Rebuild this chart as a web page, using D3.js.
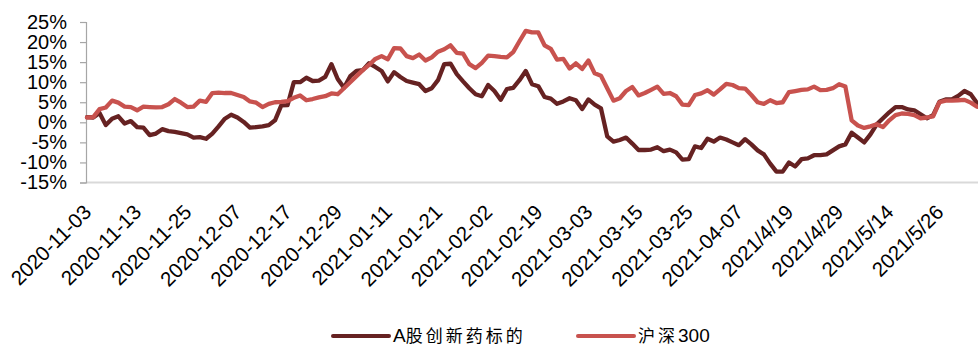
<!DOCTYPE html>
<html>
<head>
<meta charset="utf-8">
<script src="https://cdn.jsdelivr.net/npm/d3@7"></script>
<style>
  body { margin: 0; background: #fff; }
  svg { display: block; }
</style>
</head>
<body>
<svg id="chart" width="978" height="347"></svg>
<script>
// Trading days (category axis)
const dates = [
  "2020-11-03","2020-11-04","2020-11-05","2020-11-06",
  "2020-11-09","2020-11-10","2020-11-11","2020-11-12","2020-11-13",
  "2020-11-16","2020-11-17","2020-11-18","2020-11-19","2020-11-20",
  "2020-11-23","2020-11-24","2020-11-25","2020-11-26","2020-11-27",
  "2020-11-30","2020-12-01","2020-12-02","2020-12-03","2020-12-04",
  "2020-12-07","2020-12-08","2020-12-09","2020-12-10","2020-12-11",
  "2020-12-14","2020-12-15","2020-12-16","2020-12-17","2020-12-18",
  "2020-12-21","2020-12-22","2020-12-23","2020-12-24","2020-12-25",
  "2020-12-28","2020-12-29","2020-12-30","2020-12-31",
  "2021-01-04","2021-01-05","2021-01-06","2021-01-07","2021-01-08",
  "2021-01-11","2021-01-12","2021-01-13","2021-01-14","2021-01-15",
  "2021-01-18","2021-01-19","2021-01-20","2021-01-21","2021-01-22",
  "2021-01-25","2021-01-26","2021-01-27","2021-01-28","2021-01-29",
  "2021-02-01","2021-02-02","2021-02-03","2021-02-04","2021-02-05",
  "2021-02-08","2021-02-09","2021-02-10","2021-02-18","2021-02-19",
  "2021-02-22","2021-02-23","2021-02-24","2021-02-25","2021-02-26",
  "2021-03-01","2021-03-02","2021-03-03","2021-03-04","2021-03-05",
  "2021-03-08","2021-03-09","2021-03-10","2021-03-11","2021-03-12",
  "2021-03-15","2021-03-16","2021-03-17","2021-03-18","2021-03-19",
  "2021-03-22","2021-03-23","2021-03-24","2021-03-25","2021-03-26",
  "2021-03-29","2021-03-30","2021-03-31","2021-04-01","2021-04-02",
  "2021-04-06","2021-04-07","2021/4/8","2021/4/9",
  "2021/4/12","2021/4/13","2021/4/14","2021/4/15","2021/4/16",
  "2021/4/19","2021/4/20","2021/4/21","2021/4/22","2021/4/23",
  "2021/4/26","2021/4/27","2021/4/28","2021/4/29","2021/4/30",
  "2021/5/6","2021/5/7",
  "2021/5/10","2021/5/11","2021/5/12","2021/5/13","2021/5/14",
  "2021/5/17","2021/5/18","2021/5/19","2021/5/20","2021/5/21",
  "2021/5/24","2021/5/25","2021/5/26","2021/5/27","2021/5/28",
  "2021/5/31","2021/6/1","2021/6/2","2021/6/3"
];

const seriesNames = ["A股创新药标的", "沪深300"];

// Cumulative return, %
const innovDrug = [
  1.3, 1.2, 2.3, -0.7, 0.9, 1.5, -0.3, 0.3, -1.2, -1.3,
  -3.2, -2.8, -1.7, -2.2, -2.4, -2.7, -3.0, -3.8, -3.7, -4.1,
  -2.8, -1.0, 0.9, 1.9, 1.2, 0.1, -1.3, -1.2, -1.0, -0.7,
  0.5, 4.2, 4.3, 10.0, 10.0, 11.1, 10.3, 10.4, 11.3, 14.5,
  10.8, 8.6, 11.5, 12.8, 13.0, 14.7, 13.8, 12.8, 10.2, 12.5,
  11.3, 10.3, 9.9, 9.5, 7.8, 8.5, 10.5, 14.5, 14.6, 12.0,
  10.2, 8.5, 7.0, 6.5, 9.3, 7.8, 5.6, 8.3, 8.6, 10.5,
  12.8, 9.5, 9.0, 6.3, 5.9, 4.6, 5.2, 6.0, 5.5, 3.3,
  5.7, 4.4, 3.5, -3.5, -4.8, -4.4, -3.8, -5.3, -6.9, -6.9,
  -6.8, -6.2, -7.2, -6.8, -7.5, -9.3, -9.2, -6.0, -6.4, -4.1,
  -4.8, -3.8, -4.3, -5.0, -5.7, -4.2, -5.5, -7.0, -8.0, -10.3,
  -12.3, -12.3, -10.0, -11.0, -9.2, -9.0, -8.2, -8.2, -8.0, -7.0,
  -6.0, -5.5, -2.6, -3.8, -5.0, -3.0, -0.5, 1.0, 2.5, 3.8,
  3.8, 3.2, 3.0, 2.0, 1.0, 1.8, 5.1, 5.7, 5.7, 6.6,
  7.8, 7.0, 4.8
];

const hs300 = [
  1.2, 1.3, 3.3, 3.7, 5.4, 4.9, 3.9, 3.8, 3.0, 3.9,
  3.8, 3.7, 3.8, 4.5, 5.8, 4.9, 3.8, 3.9, 5.4, 5.1,
  7.3, 7.4, 7.3, 7.3, 6.8, 6.3, 5.2, 4.9, 3.8, 4.6,
  5.0, 5.1, 5.3, 6.1, 6.7, 5.5, 5.8, 6.2, 6.5, 7.2,
  7.0, 8.5, 10.0, 11.5, 13.0, 14.3, 15.8, 16.5, 15.7, 18.5,
  18.4, 16.5, 16.0, 16.9, 15.4, 16.2, 17.6, 18.2, 19.2, 17.3,
  17.1, 14.5, 13.5, 14.8, 16.6, 16.5, 16.3, 16.2, 17.5, 20.2,
  22.8, 22.4, 22.4, 19.2, 18.3, 15.6, 15.8, 13.4, 14.7, 13.3,
  15.4, 12.2, 11.6, 8.5, 5.4, 6.0, 7.8, 8.8, 6.7, 7.3,
  8.1, 8.9, 7.1, 7.3, 6.5, 4.4, 4.3, 6.8, 7.2, 8.0,
  6.9, 8.2, 9.6, 9.3, 8.5, 8.4, 6.8, 5.0, 4.6, 5.5,
  4.8, 5.0, 7.5, 7.8, 8.1, 8.2, 8.9, 8.0, 8.1, 8.5,
  9.5, 8.9, 0.5, -0.8, -1.4, -1.0, -0.5, -1.2, 0.5, 1.8,
  2.2, 2.1, 1.8, 1.0, 1.2, 1.5, 5.0, 5.4, 5.4, 5.5,
  5.6, 4.9, 3.9
];

const yTicks = [-15, -10, -5, 0, 5, 10, 15, 20, 25];
const xTickEvery = 8;

const colors = ["#662222", "#c8524e"];
const font = "'Liberation Sans', Arial, sans-serif";
const cjkFont = "'Noto Sans CJK SC', 'Liberation Sans', sans-serif";

const svg = d3.select("#chart");
const plot = { left: 86, right: 978, top: 22, bottom: 182.5 };

const x = d3.scalePoint().domain(dates).range([87, 977]);
const y = d3.scaleLinear().domain([-15, 25]).range([plot.bottom, plot.top]);

// X axis: baseline and rotated date labels
const xAxis = svg.append("g")
  .attr("transform", `translate(0,${plot.bottom})`)
  .call(d3.axisBottom(x)
    .tickValues(dates.filter((d, i) => i % xTickEvery === 0))
    .tickSize(0));
xAxis.select(".domain").remove();
xAxis.selectAll(".tick text")
  .attr("x", 0).attr("y", 0).attr("dy", 0)
  .attr("transform", "translate(5,31) rotate(-45)")
  .style("text-anchor", "end")
  .style("font-family", font)
  .style("font-size", "20.5px")
  .attr("fill", "#000");
svg.append("line")
  .attr("x1", plot.left).attr("x2", plot.right)
  .attr("y1", plot.bottom).attr("y2", plot.bottom)
  .attr("stroke", "#d9d9d9").attr("stroke-width", 2);

// Y axis
const yAxis = svg.append("g")
  .attr("transform", `translate(${plot.left},0)`)
  .call(d3.axisLeft(y).tickValues(yTicks).tickSize(6).tickPadding(13)
    .tickFormat(d => d + "%"));
yAxis.select(".domain").attr("stroke", "#a6a6a6").attr("stroke-width", 1.2);
yAxis.selectAll(".tick line").attr("stroke", "#a6a6a6").attr("stroke-width", 1.2);
yAxis.selectAll(".tick text")
  .style("font-family", font)
  .style("font-size", "20px")
  .attr("fill", "#000");

// Series lines
const line = d3.line()
  .x((d, i) => x(dates[i]))
  .y(d => y(d))
  .curve(d3.curveLinear);

[innovDrug, hs300].forEach((vals, k) => {
  svg.append("path")
    .datum(vals)
    .attr("d", line)
    .attr("fill", "none")
    .attr("stroke", colors[k])
    .attr("stroke-width", 4.3)
    .attr("stroke-linejoin", "round")
    .attr("stroke-linecap", "round");
});

// Legend: CJK runs are spaced out, Latin/digit runs set tight
const legendItems = [
  { name: seriesNames[0], color: colors[0], x0: 333 },
  { name: seriesNames[1], color: colors[1], x0: 578 }
];
legendItems.forEach(item => {
  svg.append("line")
    .attr("x1", item.x0).attr("x2", item.x0 + 56)
    .attr("y1", 336).attr("y2", 336)
    .attr("stroke", item.color).attr("stroke-width", 4)
    .attr("stroke-linecap", "round");
  const t = svg.append("text")
    .attr("x", item.x0 + 60).attr("y", 342)
    .style("font-size", "17px")
    .attr("fill", "#000");
  const runs = item.name.match(/[\u4e00-\u9fff]+|[^\u4e00-\u9fff]+/g);
  runs.forEach(run => {
    const isCjk = /[\u4e00-\u9fff]/.test(run);
    t.append("tspan")
      .style("font-family", isCjk ? cjkFont : font)
      .style("font-size", isCjk ? "17px" : "19px")
      .style("letter-spacing", isCjk ? "3px" : "0px")
      .text(run);
  });
});
</script>
</body>
</html>
